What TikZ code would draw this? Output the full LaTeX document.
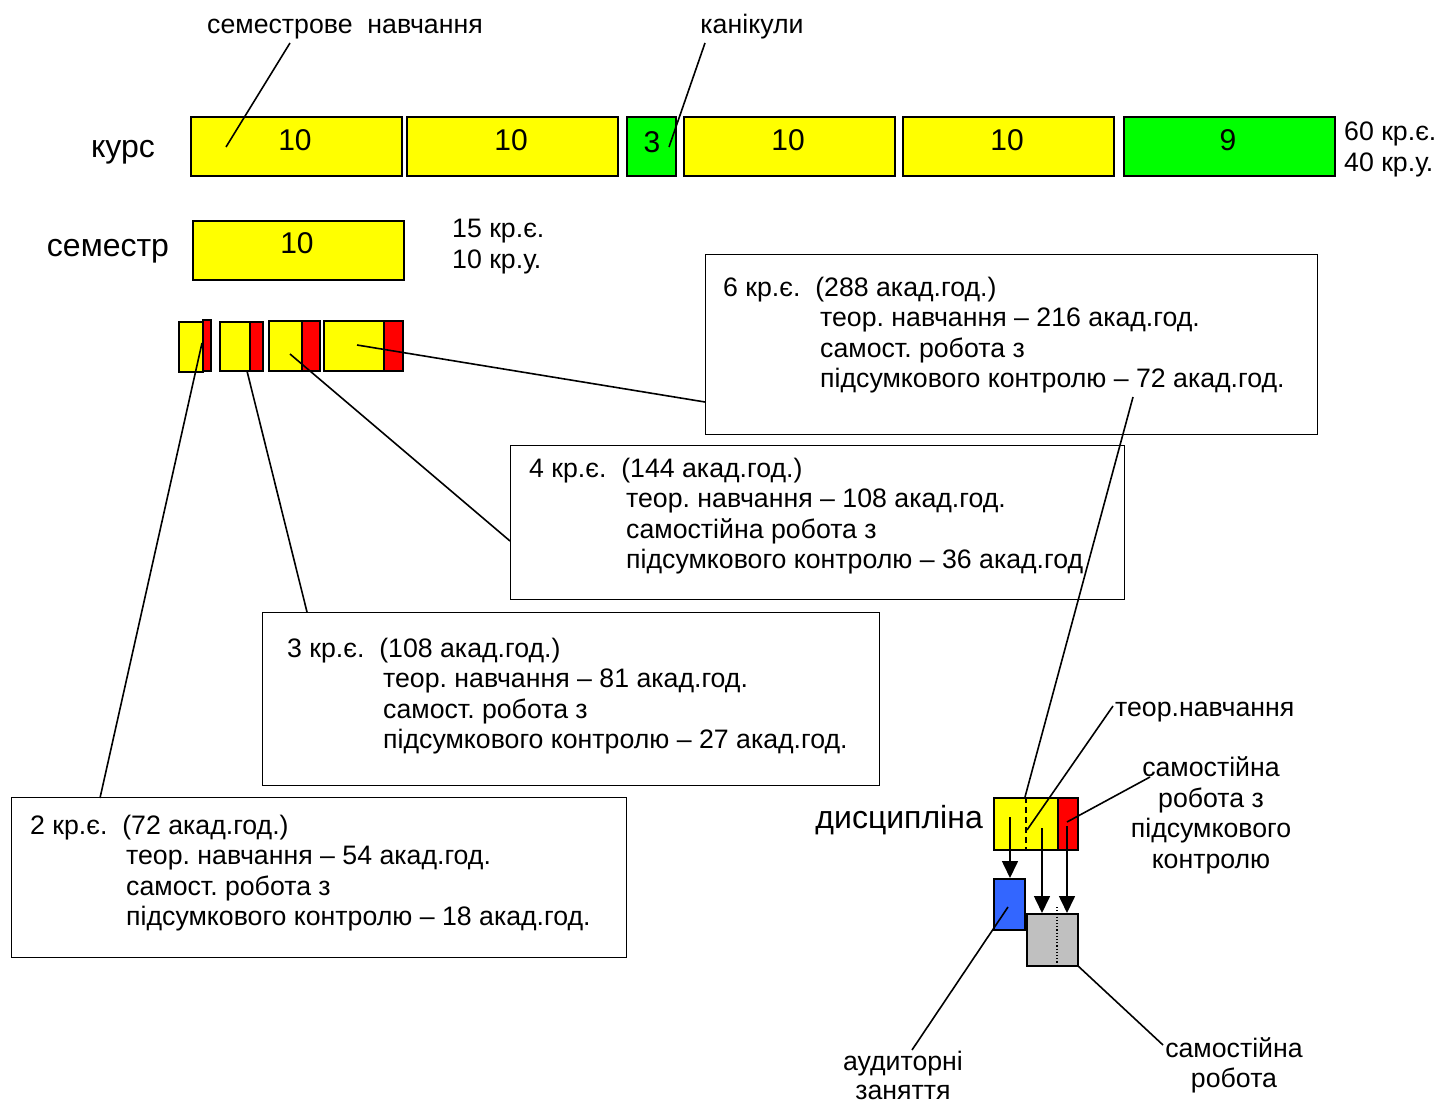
\documentclass[tikz,border=0pt]{standalone}
\usepackage{fontspec}
\setmainfont{Liberation Sans}
\usetikzlibrary{arrows.meta}
\definecolor{cyel}{RGB}{255,255,0}
\definecolor{cred}{RGB}{255,0,0}
\definecolor{cgrn}{RGB}{0,255,0}
\definecolor{cblu}{RGB}{51,102,255}
\definecolor{cgry}{RGB}{192,192,192}
\begin{document}
\frenchspacing
\begin{tikzpicture}[x=1pt,y=-1pt,
  blk/.style={draw=black, line width=1.6pt, inner sep=0pt, anchor=north west},
  frame/.style={draw=black, line width=1.4pt, inner sep=0pt, anchor=north west},
  sm/.style={font=\fontsize{26.7}{30.5}\selectfont, inner sep=0pt, anchor=base},
  smw/.style={sm, anchor=base west},
  big/.style={font=\fontsize{32}{38}\selectfont, inner sep=0pt, anchor=base},
  num/.style={font=\fontsize{30}{36}\selectfont, inner sep=0pt, anchor=base},
  conn/.style={line width=1.6pt},
  arr/.style={line width=1.6pt, -{Triangle[width=16pt,length=17pt]}}
]
\useasboundingbox (0,0) rectangle (1438,1102);

% ---- course row ----
\node[blk, fill=cyel, minimum width=211, minimum height=59] (k1) at (190,116) {};
\node[blk, fill=cyel, minimum width=211, minimum height=59] (k2) at (406,116) {};
\node[blk, fill=cgrn, minimum width=49, minimum height=59] (g1) at (626,116) {};
\node[blk, fill=cyel, minimum width=211, minimum height=59] (k3) at (683,116) {};
\node[blk, fill=cyel, minimum width=211, minimum height=59] (k4) at (902,116) {};
\node[blk, fill=cgrn, minimum width=211, minimum height=59] (g2) at (1123,116) {};
\node[num] (n1) at (295,151) {10};
\node[num] (n2) at (511,151) {10};
\node[num] (n3) at (652,153) {3};
\node[num] (n4) at (788,151) {10};
\node[num] (n5) at (1007,151) {10};
\node[num] (n6) at (1228,151) {9};
\node[big] (lkurs) at (123,158) {курс};
\node[smw] (c60) at (1344,141) {60 кр.є.};
\node[smw] (c40) at (1344,172) {40 кр.у.};
\node[sm] (lsn) at (345,34) {семестрове\ \ навчання};
\node[sm] (lkan) at (752,34) {канікули};

% ---- semester ----
\node[blk, fill=cyel, minimum width=211, minimum height=59] (sem) at (192,220) {};
\node[num] (ns) at (297,254) {10};
\node[big] (lsem) at (108,257) {семестр};
\node[smw] (c15) at (452,238) {15 кр.є.};
\node[smw] (c10) at (452,269) {10 кр.у.};

% ---- small bars ----
\node[blk, fill=cyel, minimum width=24, minimum height=50] (a1) at (178,321) {};
\node[blk, fill=cred, minimum width=8, minimum height=51] (r1) at (202,319) {};
\node[blk, fill=cyel, minimum width=30, minimum height=49] (a2) at (219,321) {};
\node[blk, fill=cred, minimum width=13, minimum height=49] (r2) at (249,321) {};
\node[blk, fill=cyel, minimum width=33, minimum height=50] (a3) at (268,320) {};
\node[blk, fill=cred, minimum width=18, minimum height=50] (r3) at (301,320) {};
\node[blk, fill=cyel, minimum width=60, minimum height=50] (a4) at (323,320) {};
\node[blk, fill=cred, minimum width=19, minimum height=50] (r4) at (383,320) {};

% ---- text boxes ----
\node[frame, minimum width=612, minimum height=180] (b6) at (705,254) {};
\node[smw] (t61) at (723,296) {6 кр.є.\ \ (288 акад.год.)};
\node[smw] (t62) at (820,326.5) {теор. навчання – 216 акад.год.};
\node[smw] (t63) at (820,357) {самост. робота з};
\node[smw] (t64) at (820,387.5) {підсумкового контролю – 72 акад.год.};

\node[frame, minimum width=614, minimum height=154] (b4) at (510,445) {};
\node[smw] (t41) at (529,477) {4 кр.є.\ \ (144 акад.год.)};
\node[smw] (t42) at (626,507.5) {теор. навчання – 108 акад.год.};
\node[smw] (t43) at (626,538) {самостійна робота з};
\node[smw] (t44) at (626,568.5) {підсумкового контролю – 36 акад.год};

\node[frame, minimum width=617, minimum height=173] (b3) at (262,612) {};
\node[smw] (t31) at (287,657) {3 кр.є.\ \ (108 акад.год.)};
\node[smw] (t32) at (383,687.5) {теор. навчання – 81 акад.год.};
\node[smw] (t33) at (383,718) {самост. робота з};
\node[smw] (t34) at (383,748.5) {підсумкового контролю – 27 акад.год.};

\node[frame, minimum width=615, minimum height=160] (b2) at (11,797) {};
\node[smw] (t21) at (30,834) {2 кр.є.\ \ (72 акад.год.)};
\node[smw] (t22) at (126,864.5) {теор. навчання – 54 акад.год.};
\node[smw] (t23) at (126,895) {самост. робота з};
\node[smw] (t24) at (126,925.5) {підсумкового контролю – 18 акад.год.};

% ---- discipline ----
\node[blk, fill=cyel, minimum width=64, minimum height=52] (dy) at (993,797) {};
\node[blk, fill=cred, minimum width=20, minimum height=52] (dr) at (1057,797) {};
\node[blk, fill=cblu, minimum width=31, minimum height=51] (db) at (993,878) {};
\node[blk, fill=cgry, minimum width=51, minimum height=52] (dg) at (1026,913) {};
\draw[line width=1.4pt, dash pattern=on 6pt off 4pt] (1026,797) -- (1026,849);
\draw[line width=1.2pt, dotted] (1057,907) -- (1057,965);
\node[big, anchor=base east] (ldis) at (983,828) {дисципліна};
\node[smw] (lteor) at (1115,716) {теор.навчання};
\node[sm] (ls1) at (1211,776) {самостійна};
\node[sm] (ls2) at (1211,807) {робота з};
\node[sm] (ls3) at (1211,837) {підсумкового};
\node[sm] (ls4) at (1211,868) {контролю};
\node[sm] (lau1) at (903,1070) {аудиторні};
\node[sm] (lau2) at (903,1099) {заняття};
\node[sm] (lsr1) at (1234,1057) {самостійна};
\node[sm] (lsr2) at (1234,1087) {робота};

% ---- connector end points ----
\coordinate (p1a) at (290,43);   \coordinate (p1b) at (226,147);
\coordinate (p2a) at (705,43);   \coordinate (p2b) at (669,147);
\coordinate (p3a) at (202,343);  \coordinate (p3b) at (100,798);
\coordinate (p4a) at (247,371);  \coordinate (p4b) at (307,612);
\coordinate (p5a) at (290,354);  \coordinate (p5b) at (510,541);
\coordinate (p6a) at (357,345);  \coordinate (p6b) at (705,402);
\coordinate (p7a) at (1133,397); \coordinate (p7b) at (1025,797);
\coordinate (p8a) at (1113,706); \coordinate (p8b) at (1027,830);
\coordinate (p9a) at (1150,777); \coordinate (p9b) at (1067,822);
\coordinate (p10a) at (1008,907); \coordinate (p10b) at (912,1050);
\coordinate (p11a) at (1077,965); \coordinate (p11b) at (1163,1045);
\coordinate (q1a) at (1010,817); \coordinate (q1b) at (1010,878);
\coordinate (q2a) at (1042,828); \coordinate (q2b) at (1042,913);
\coordinate (q3a) at (1067,826); \coordinate (q3b) at (1067,913);

\draw[conn] (p1a) -- (p1b);
\draw[conn] (p2a) -- (p2b);
\draw[conn] (p3a) -- (p3b);
\draw[conn] (p4a) -- (p4b);
\draw[conn] (p5a) -- (p5b);
\draw[conn] (p6a) -- (p6b);
\draw[conn] (p7a) -- (p7b);
\draw[conn] (p8a) -- (p8b);
\draw[conn] (p9a) -- (p9b);
\draw[conn] (p10a) -- (p10b);
\draw[conn] (p11a) -- (p11b);
\draw[arr] (q1a) -- (q1b);
\draw[arr] (q2a) -- (q2b);
\draw[arr] (q3a) -- (q3b);
\end{tikzpicture}
\end{document}
